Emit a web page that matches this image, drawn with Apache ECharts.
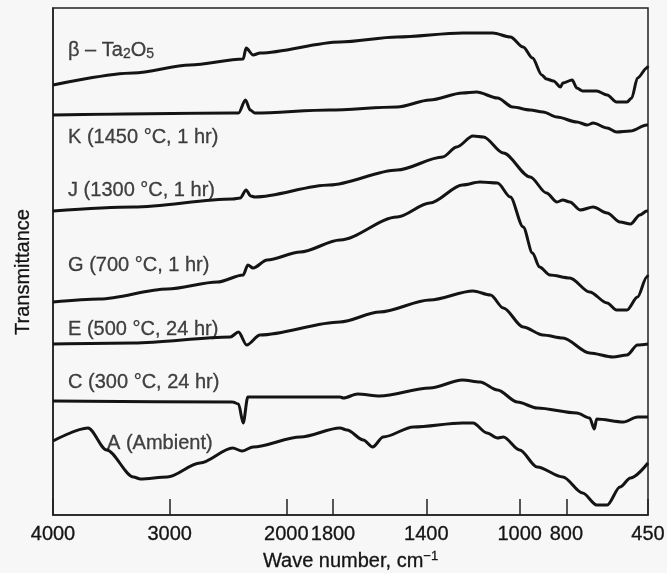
<!DOCTYPE html>
<html>
<head>
<meta charset="utf-8">
<script src="https://cdn.jsdelivr.net/npm/echarts@6/dist/echarts.min.js"></script>
<style>
html,body{margin:0;padding:0;background:#f7f7f7;}
#chart{width:667px;height:573px;}
</style>
</head>
<body>
<div id="chart"></div>
<script>
// ---- data (wave number in cm-1, transmittance in arbitrary offset units) ----
const tickLabels = [4000, 3000, 2000, 1800, 1400, 1000, 800, 450];

const betaWave = [4000,3310,2825,2370,2345,2285,2225,1770,1525,1245,1115,1040,985,945,905,885,855,825,815,775,755,730,670,625,585,540,520,495,455,450];
const betaT    = [434,446,454,460,471,464,466,477,482,486,486,482,472,461,444,440,438,432,436,439,431,428,428,424,417,417,421,441,451,453];

const kWave = [4000,2460,2410,2350,2310,2270,1815,1525,1385,1245,1185,1095,1030,955,900,840,755,710,685,625,585,525,455,450];
const kT    = [404,406,406,419,409,406,409,412,419,426,427,421,412,409,407,402,397,394,396,391,387,388,394,394];

const jWave = [4000,3310,2460,2395,2345,2305,2270,1815,1525,1330,1270,1200,1155,1070,955,885,840,815,785,740,685,625,570,525,485,455,450];
const jT    = [308,312,320,321,329,323,322,334,349,362,372,383,382,366,342,326,317,319,317,309,312,306,297,295,304,308,308];

const gWave = [4000,3600,3020,2590,2370,2330,2285,2165,1940,1770,1525,1385,1245,1170,1095,1040,985,945,915,870,785,700,625,585,540,495,455,450];
const gT    = [217,220,230,237,244,254,251,259,267,279,302,316,334,337,336,322,292,266,252,244,241,227,216,209,209,222,242,244];

const eWave = [4000,3310,2480,2410,2340,2225,1770,1600,1385,1200,1125,1070,985,900,815,700,600,540,495,450];
const eT    = [175,176,182,187,174,184,197,207,219,228,224,211,192,184,181,166,162,164,174,175];

const cWave = [4000,2460,2410,2370,2330,1770,1755,1695,1600,1385,1245,1170,1095,1010,925,755,700,680,670,555,495,450];
const cT    = [118,117,115,96,122,122,121,125,123,131,139,137,129,117,111,106,101,90,100,97,102,102];

const aWave = [4000,3700,3540,3310,3250,3020,2740,2460,2380,2285,1940,1770,1740,1670,1630,1585,1455,1245,1200,1140,1095,1070,1000,925,815,730,670,625,570,525,450];
const aT    = [78,91,69,42,40,42,56,71,68,72,82,91,89,79,72,82,92,96,96,86,81,82,69,52,42,26,14,14,32,41,56];

const labelText = ['β – Ta{sub|2}O{sub|5}','K (1450 °C, 1 hr)','J (1300 °C, 1 hr)','G (700 °C, 1 hr)','E (500 °C, 24 hr)','C (300 °C, 24 hr)','A (Ambient)'];
const labelWave = [3871,3871,3871,3871,3871,3871,3537];
const labelT    = [469,382,329,254,190,137,76];

// ---- split wave-number scale: above 2000 cm-1 compressed by 2 ----
function toAxis(w){ return w > 2000 ? 2000 + (w - 2000) / 2 : w; }
function fromAxis(u){ return u > 2000 ? 2 * u - 2000 : u; }

const FONT = '"Liberation Sans", Arial, Helvetica, sans-serif';
const INK = '#141414';
const TXT = { color: INK, fontFamily: FONT, fontSize: 20, textBorderColor: INK, textBorderWidth: 0.3 };

function lineSeries(wave, t){
  return {
    type: 'line',
    data: wave.map((w, i) => [toAxis(w), t[i]]),
    showSymbol: false,
    smooth: 0.3,
    smoothMonotone: 'x',
    lineStyle: { color: INK, width: 3 },
    silent: true
  };
}

const chart = echarts.init(document.getElementById('chart'));
chart.setOption({
  animation: false,
  backgroundColor: '#f7f7f7',
  grid: { left: 53, right: 19, top: 8, bottom: 58, outerBoundsMode: 'none', containLabel: false, show: true, borderColor: '#222', borderWidth: 1.5, backgroundColor: 'transparent' },
  xAxis: {
    type: 'value',
    inverse: true,
    min: toAxis(450),
    max: toAxis(4000),
    name: 'Wave number, cm{sup|−1}',
    nameLocation: 'middle',
    nameGap: 35,
    nameTextStyle: Object.assign({}, TXT, { rich: { sup: Object.assign({}, TXT, { fontSize: 13, verticalAlign: 'top', padding: [0,0,9,0] }) } }),
    axisLine: { show: true, lineStyle: { color: '#222', width: 1.5 } },
    axisTick: { show: true, inside: true, length: 16, lineStyle: { color: '#222', width: 1.5 }, customValues: tickLabels.map(toAxis) },
    axisLabel: Object.assign({}, TXT, { show: true, customValues: tickLabels.map(toAxis), formatter: v => String(Math.round(fromAxis(v))), margin: 9, showMinLabel: true, showMaxLabel: true, hideOverlap: false }),
    splitLine: { show: false }
  },
  yAxis: {
    type: 'value',
    min: 4,
    max: 511,
    name: 'Transmittance',
    nameLocation: 'middle',
    nameGap: 20,
    nameTextStyle: Object.assign({}, TXT, { padding: [0, 21, 0, 0] }),
    axisLine: { show: true, lineStyle: { color: '#222', width: 1.5 } },
    axisTick: { show: false },
    axisLabel: { show: false },
    splitLine: { show: false }
  },
  series: [
    lineSeries(betaWave, betaT),
    lineSeries(kWave, kT),
    lineSeries(jWave, jT),
    lineSeries(gWave, gT),
    lineSeries(eWave, eT),
    lineSeries(cWave, cT),
    lineSeries(aWave, aT),
    {
      type: 'scatter',
      symbolSize: 0,
      silent: true,
      data: labelText.map((s, i) => ({ name: s, value: [toAxis(labelWave[i]), labelT[i]] })),
      label: Object.assign({}, TXT, {
        show: true,
        position: [0, 0],
        align: 'left',
        verticalAlign: 'middle',
        formatter: p => p.name,
        rich: { sub: Object.assign({}, TXT, { fontSize: 14, verticalAlign: 'bottom', padding: [9,0,0,0] }) }
      })
    }
  ]
});
</script>
</body>
</html>
